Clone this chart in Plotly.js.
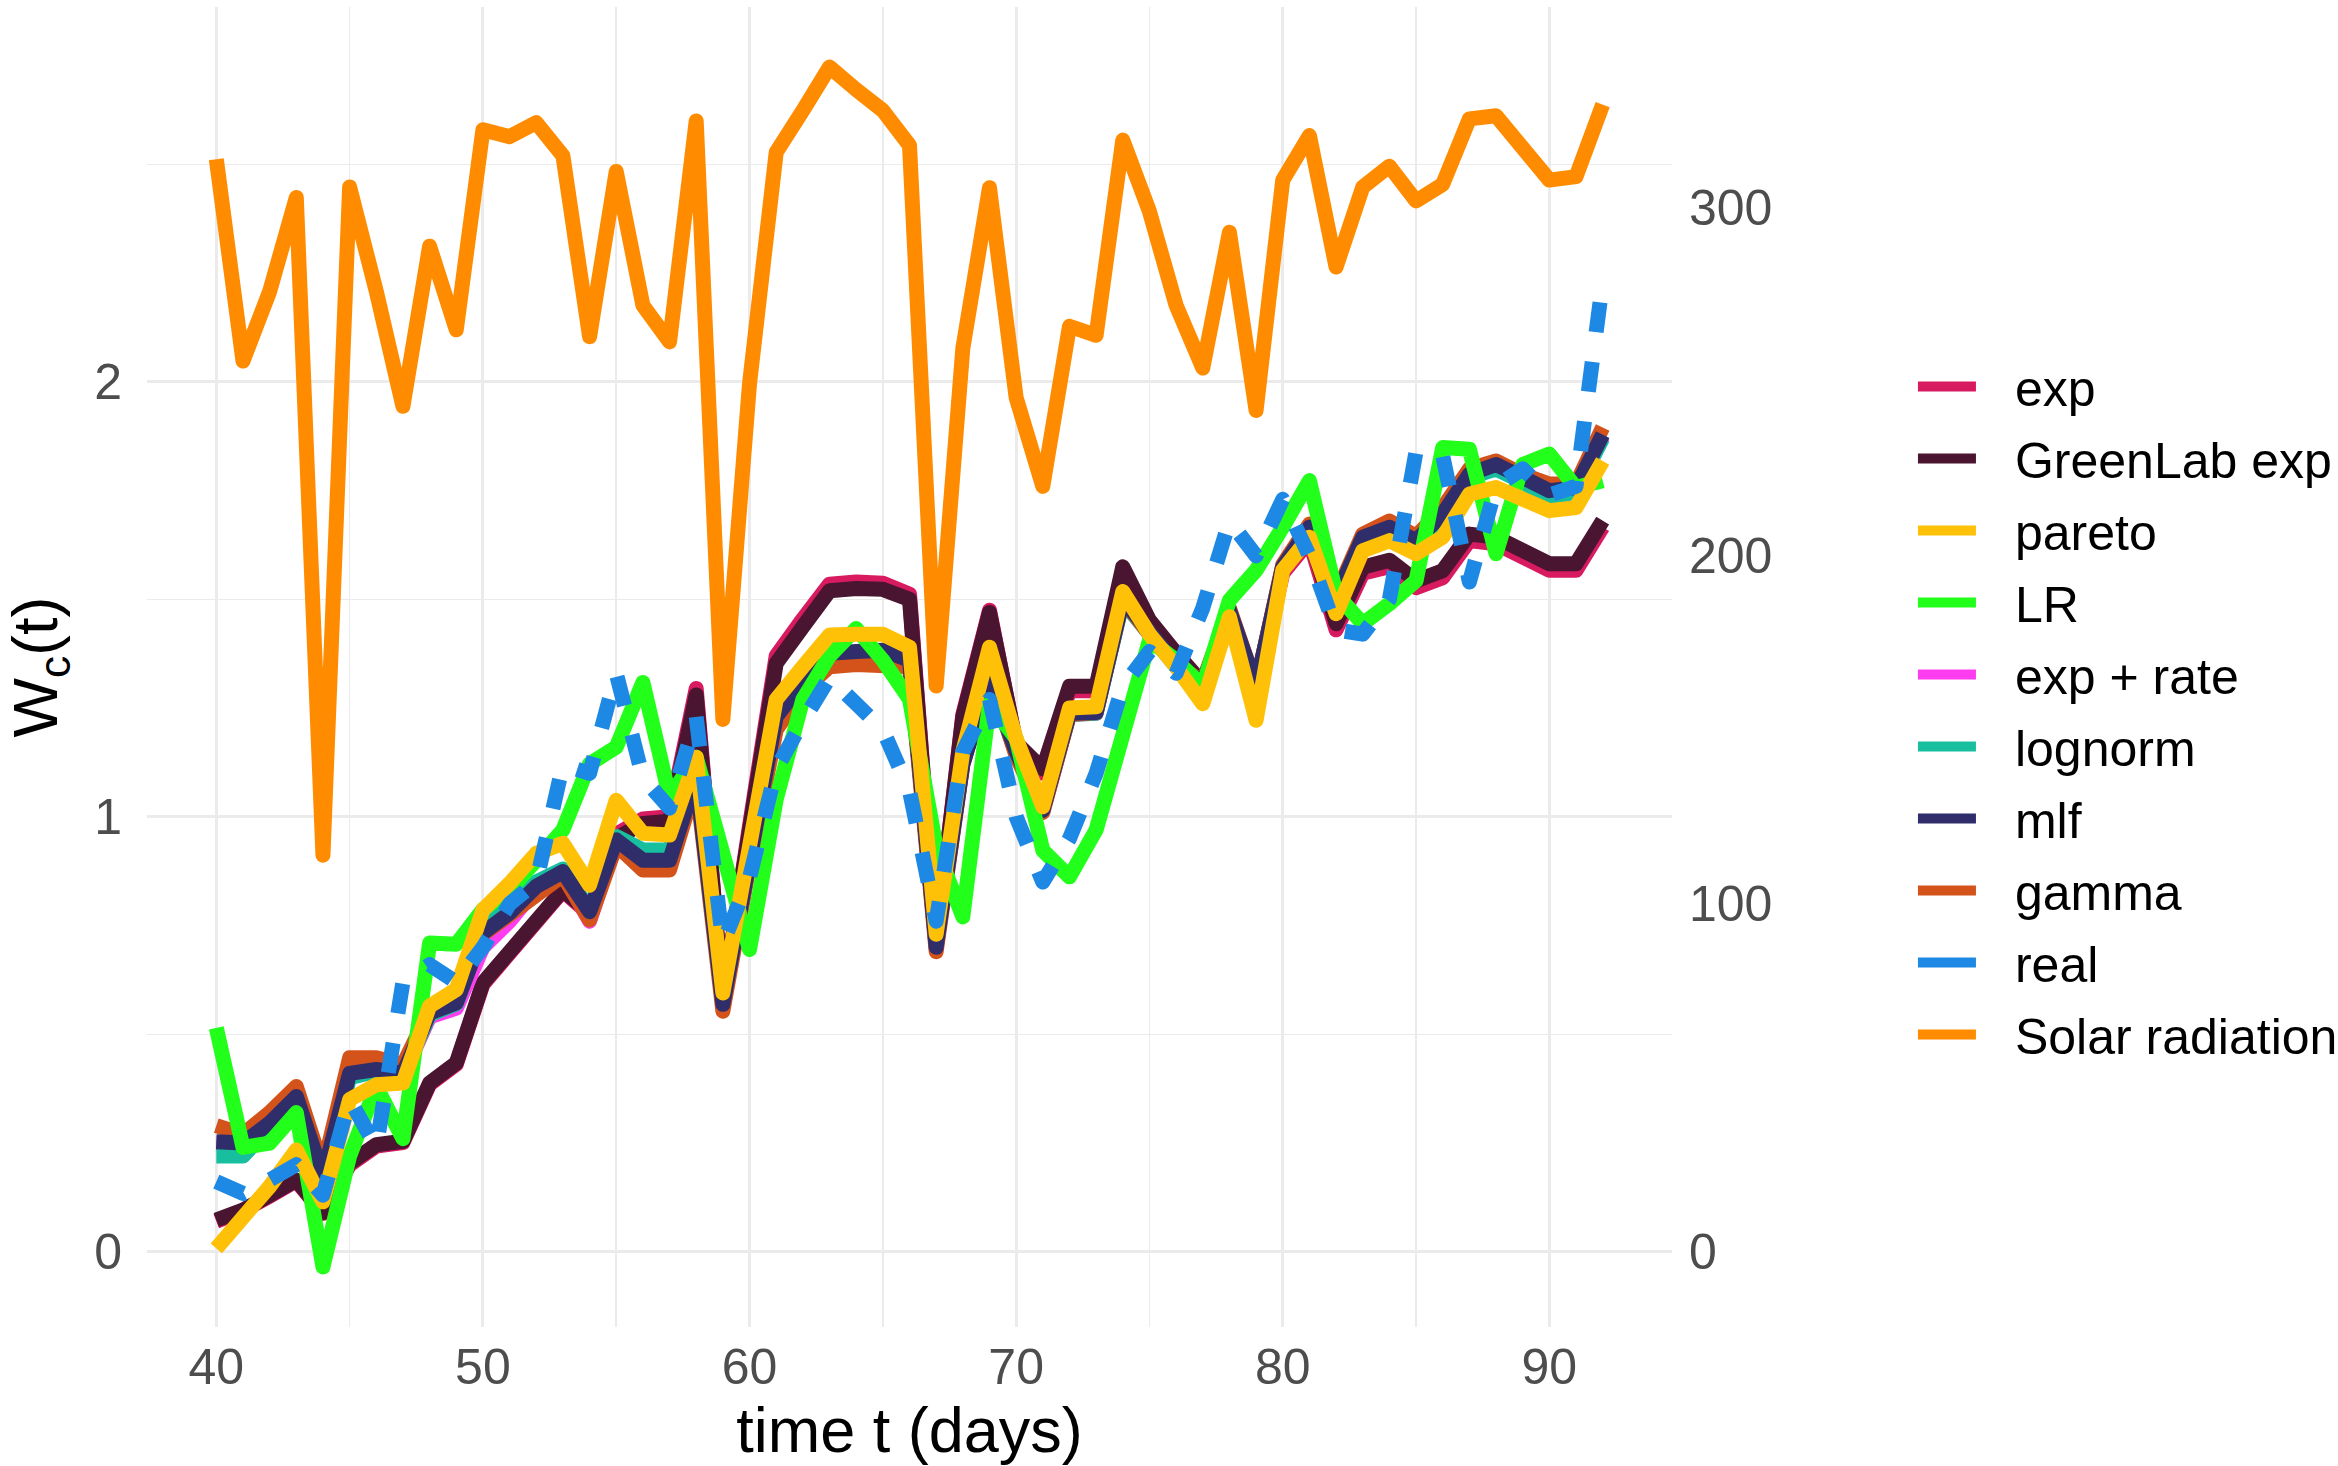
<!DOCTYPE html>
<html>
<head>
<meta charset="utf-8">
<script src="https://cdn.plot.ly/plotly-3.0.1.min.js"></script>
<style>
  html, body { margin: 0; padding: 0; background: #fff; }
  #chart { width: 2338px; height: 1466px; }
  .scatterlayer .js-line { stroke-linejoin: round; }
</style>
</head>
<body>
<div id="chart"></div>
<script>
// days 40..92
const days = [40,41,42,43,44,45,46,47,48,49,50,51,52,53,54,55,56,57,58,59,60,61,62,63,64,65,66,
              67,68,69,70,71,72,73,74,75,76,77,78,79,80,81,82,83,84,85,86,87,88,89,90,91,92];

// model outputs W_c(t)
const expVals = [0.07,0.094,0.128,0.163,0.088,0.2,0.243,0.251,0.385,0.431,0.615,0.684,0.76,0.83,0.776,0.96,0.995,1.0,1.295,0.575,
                 0.98,1.37,1.455,1.535,1.54,1.537,1.512,0.71,1.235,1.475,1.165,1.1,1.29,1.29,1.565,1.445,1.37,1.3,1.46,1.29,
                 1.56,1.635,1.43,1.56,1.575,1.527,1.55,1.635,1.628,1.597,1.567,1.567,1.666];
const greenlabVals = [0.073,0.096,0.13,0.165,0.09,0.204,0.246,0.254,0.388,0.434,0.618,0.687,0.763,0.832,0.779,0.95,0.985,0.99,1.28,0.58,
                 0.97,1.353,1.437,1.52,1.525,1.523,1.5,0.71,1.23,1.47,1.17,1.11,1.3,1.3,1.575,1.452,1.376,1.307,1.468,1.3,
                 1.575,1.65,1.444,1.574,1.59,1.543,1.566,1.65,1.643,1.612,1.582,1.582,1.681];
const paretoVals = [0.008,0.073,0.15,0.234,0.115,0.35,0.384,0.388,0.565,0.603,0.786,0.847,0.916,0.939,0.843,1.038,0.962,0.958,1.137,0.595,
                 0.94,1.27,1.345,1.418,1.42,1.42,1.39,0.73,1.15,1.39,1.18,1.023,1.25,1.253,1.518,1.42,1.345,1.26,1.46,1.222,
                 1.567,1.643,1.467,1.612,1.635,1.605,1.643,1.742,1.757,1.734,1.704,1.711,1.818];
const lrVals = [0.515,0.24,0.25,0.32,-0.035,0.22,0.38,0.26,0.71,0.707,0.787,0.832,0.9,0.97,1.122,1.16,1.309,1.046,1.137,0.9,
                 0.695,1.04,1.27,1.37,1.433,1.36,1.27,0.93,0.77,1.26,1.18,0.923,0.862,0.97,1.19,1.406,1.36,1.3,1.498,1.567,
                 1.666,1.773,1.513,1.444,1.49,1.543,1.849,1.845,1.605,1.81,1.834,1.757,1.773];
const expRateVals = [0.25,0.248,0.294,0.36,0.172,0.405,0.415,0.405,0.54,0.56,0.7,0.76,0.835,0.87,0.76,0.945,0.9,0.9,1.09,0.57,
                 0.9,1.228,1.308,1.374,1.378,1.38,1.358,0.7,1.125,1.318,1.148,1.012,1.236,1.238,1.498,1.418,1.348,1.305,1.472,1.298,
                 1.572,1.663,1.502,1.64,1.663,1.632,1.693,1.785,1.806,1.777,1.747,1.754,1.875];
const lognormVals = [0.22,0.22,0.285,0.35,0.17,0.4,0.415,0.405,0.545,0.57,0.74,0.79,0.85,0.88,0.785,0.955,0.924,0.924,1.09,0.575,
                 0.9,1.225,1.305,1.37,1.375,1.378,1.355,0.705,1.125,1.315,1.145,1.015,1.235,1.238,1.495,1.415,1.345,1.3,1.47,1.295,
                 1.57,1.66,1.5,1.637,1.66,1.63,1.69,1.78,1.8,1.77,1.727,1.75,1.87];
const mlfVals = [0.253,0.25,0.296,0.357,0.173,0.41,0.419,0.41,0.549,0.572,0.733,0.779,0.84,0.874,0.782,0.947,0.9,0.9,1.09,0.569,
                 0.9,1.23,1.31,1.376,1.38,1.383,1.36,0.7,1.12,1.32,1.15,1.015,1.238,1.24,1.5,1.42,1.35,1.307,1.475,1.3,
                 1.575,1.666,1.505,1.643,1.666,1.635,1.696,1.788,1.81,1.78,1.75,1.757,1.879];
const gammaVals = [0.29,0.27,0.32,0.38,0.19,0.446,0.446,0.43,0.555,0.575,0.73,0.775,0.83,0.865,0.763,0.935,0.878,0.878,1.08,0.553,
                 0.89,1.2,1.29,1.345,1.35,1.35,1.345,0.69,1.12,1.33,1.14,1.01,1.235,1.24,1.5,1.42,1.35,1.31,1.48,1.3,
                 1.58,1.673,1.51,1.65,1.68,1.645,1.71,1.8,1.818,1.787,1.765,1.765,1.895];
const realVals = [0.161,0.134,0.165,0.2,0.13,0.35,0.24,0.62,0.66,0.62,0.7,0.8,0.85,1.12,1.1,1.33,1.09,1.02,1.23,0.71,
                 0.86,1.11,1.22,1.32,1.26,1.2,1.06,0.76,1.15,1.27,1.0,0.85,0.95,1.1,1.3,1.38,1.33,1.48,1.68,1.6,
                 1.73,1.6,1.43,1.42,1.5,1.84,1.83,1.54,1.76,1.8,1.74,1.76,2.23];
// solar radiation, right axis
const solarVals = [314,256,276,303,114,306,276,243,289,265,322.5,320.5,324.5,315,263,310.5,272,261.5,325,153,
                 249.5,316,328,340.5,334,328,318,162.6,259.6,305.8,245.5,220,266,263.4,319.5,299,272,254,293,241.8,
                 308,320.8,283,306,312,302,306.8,325.6,326.5,317,308,309,329.7];

// legend order as in the picture
const legendNames = ['exp', 'GreenLab exp', 'pareto', 'LR', 'exp + rate', 'lognorm', 'mlf', 'gamma', 'real', 'Solar radiation'];
const colors = {
    'exp': '#D81B60',
    'GreenLab exp': '#4A1530',
    'pareto': '#FFC107',
    'LR': '#22FF1A',
    'exp + rate': '#FF3DF0',
    'lognorm': '#17BF9F',
    'mlf': '#302D6B',
    'gamma': '#D4531B',
    'real': '#1E88E5',
    'Solar radiation': '#FF8C00'
};

const LW = 15;
const font = 'Liberation Sans, Arial, sans-serif';

// series in drawing order (bottom to top)
const series = [
    { name: 'exp', y: expVals },
    { name: 'GreenLab exp', y: greenlabVals },
    { name: 'exp + rate', y: expRateVals },
    { name: 'lognorm', y: lognormVals },
    { name: 'gamma', y: gammaVals },
    { name: 'mlf', y: mlfVals },
    { name: 'LR', y: lrVals },
    { name: 'pareto', y: paretoVals },
    { name: 'real', y: realVals, dash: '30px,30px' },
    { name: 'Solar radiation', y: solarVals, axis: 'y2' }
];

function lineTraces() {
    return series.map(s => ({
        x: days, y: s.y,
        type: 'scatter', mode: 'lines',
        line: { color: colors[s.name], width: LW, dash: s.dash || 'solid' },
        name: s.name,
        yaxis: s.axis || 'y',
        showlegend: false,
        hoverinfo: 'skip'
    }));
}

// empty entries only used to get the legend in the right order
function legendTraces() {
    return legendNames.map(n => ({
        x: [null], y: [null],
        type: 'scatter', mode: 'lines',
        line: { color: colors[n], width: LW },
        name: n,
        legendgroup: n,
        showlegend: true
    }));
}

const gridCol = '#EBEBEB';
const tickFont = { size: 50, color: '#4D4D4D', family: font };

const layout = {
    width: 2338, height: 1466,
    margin: { l: 147, r: 666, t: 7, b: 139 },
    paper_bgcolor: '#fff', plot_bgcolor: '#fff',
    font: { family: font },
    showlegend: true,
    xaxis: {
        range: [37.4, 94.6],
        tick0: 0, dtick: 10,
        showgrid: true, gridcolor: gridCol, gridwidth: 3,
        minor: { tick0: 0, dtick: 5, showgrid: true, gridcolor: gridCol, gridwidth: 1.5 },
        zeroline: false, showline: false, ticks: '',
        tickfont: tickFont, ticklabelstandoff: 6,
        title: { text: 'time t (days)', font: { size: 63, color: '#000', family: font }, standoff: 8 }
    },
    yaxis: {
        range: [-0.173, 2.862],
        tick0: 0, dtick: 1,
        showgrid: true, gridcolor: gridCol, gridwidth: 3,
        minor: { tick0: 0, dtick: 0.5, showgrid: true, gridcolor: gridCol, gridwidth: 1.5 },
        zeroline: false, showline: false, ticks: '',
        tickfont: tickFont, ticklabelstandoff: 24,
        title: { text: 'W<sub>c</sub>(t)', font: { size: 63, color: '#000', family: font }, standoff: 20 }
    },
    yaxis2: {
        overlaying: 'y', side: 'right',
        range: [-21.6, 357.75],
        tick0: 0, dtick: 100,
        showgrid: false, zeroline: false, showline: false, ticks: '',
        tickfont: tickFont, ticklabelstandoff: 16
    },
    legend: {
        x: 1.158, xanchor: 'left',
        y: 0.467, yanchor: 'middle',
        traceorder: 'grouped', tracegroupgap: 4,
        font: { size: 50, color: '#000', family: font },
        bgcolor: 'rgba(0,0,0,0)',
        itemwidth: 58
    }
};

Plotly.newPlot('chart', [...legendTraces(), ...lineTraces()], layout, { staticPlot: true }).then(() => {
    // ggplot leaves a wider gap between key and label
    document.querySelectorAll('#chart .legendtext').forEach(t => {
        t.setAttribute('x', parseFloat(t.getAttribute('x')) + 34);
    });
    // the shifted labels run past the legend's own clip box
    document.querySelectorAll('#chart .legend .scrollbox').forEach(g => g.removeAttribute('clip-path'));
});
</script>
</body>
</html>
